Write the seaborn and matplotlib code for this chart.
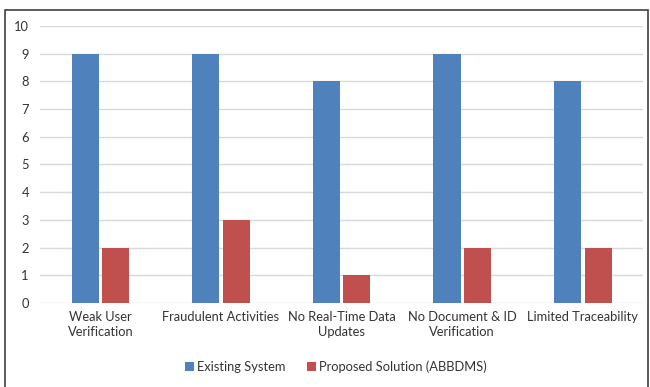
import matplotlib
matplotlib.use("Agg")
import matplotlib.pyplot as plt
import seaborn as sns
import pandas as pd
from matplotlib.patches import Rectangle

categories = ["Weak User\nVerification", "Fraudulent Activities", "No Real-Time Data\nUpdates",
              "No Document & ID\nVerification", "Limited Traceability"]
existing = [9, 9, 8, 9, 8]
proposed = [2, 3, 1, 2, 2]
series = ["Existing System", "Proposed Solution (ABBDMS)"]
colors = ["#4F81BD", "#C0504D"]

df = pd.DataFrame({
    "category": categories * 2,
    "value": existing + proposed,
    "series": [series[0]] * len(categories) + [series[1]] * len(categories),
})

sns.set_theme(style="white")
plt.rcParams["font.family"] = ["Lato", "DejaVu Sans"]

fig = plt.figure(figsize=(6.5, 3.87), dpi=100)
ax = fig.add_axes([0.0615, 0.217, 0.928, 0.716])

sns.barplot(data=df, x="category", y="value", hue="series", palette=colors,
            width=0.505, gap=0.11, ax=ax, saturation=1, legend=True,
            linewidth=0, edgecolor="none")

ax.set_ylim(0, 10)
ax.set_yticks(range(0, 11))
ax.set_xlim(-0.5, len(categories) - 0.5)
ax.yaxis.grid(True, color="#D9D9D9", linewidth=1)
ax.set_axisbelow(True)
for s in ax.spines.values():
    s.set_visible(False)
ax.set_xlabel("")
ax.set_ylabel("")
ax.tick_params(axis="both", length=0, labelsize=9.3, labelcolor="#333333")
ax.tick_params(axis="y", pad=8)
ax.tick_params(axis="x", pad=6)
for lbl in ax.get_xticklabels():
    lbl.set_linespacing(1.25)

handles, labels = ax.get_legend_handles_labels()
ax.get_legend().remove()
fig.legend(handles, labels, loc="center", bbox_to_anchor=(0.517, 0.052), ncol=2,
           frameon=False, fontsize=9.3, handlelength=0.65, handleheight=0.65,
           handletextpad=0.25, columnspacing=1.7, labelcolor="#333333")

# outer frame around the chart
fig.patches.append(Rectangle((5 / 650, -0.01), 643 / 650, 1 - 10 / 387 + 0.01,
                             transform=fig.transFigure, fill=False,
                             edgecolor="#404040", linewidth=1.2))

fig.savefig("out.png", dpi=100, facecolor="white")
